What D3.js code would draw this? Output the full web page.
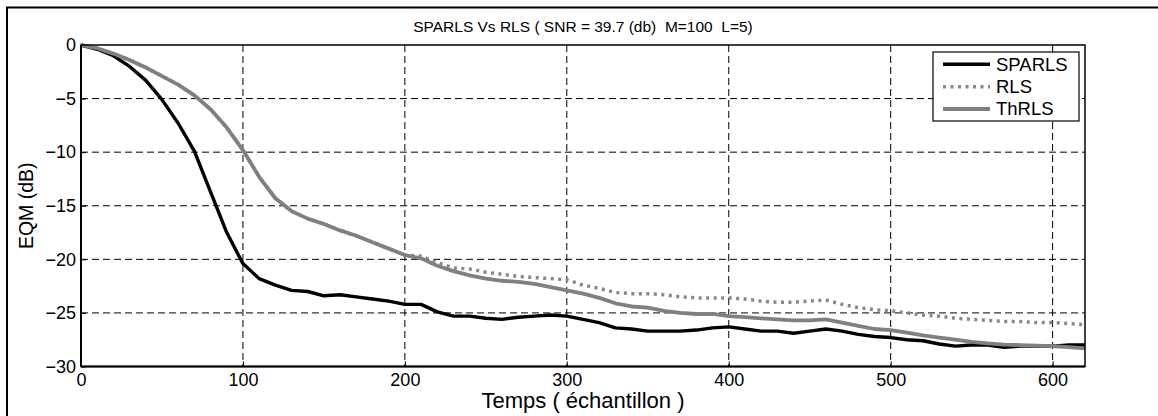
<!DOCTYPE html>
<html>
<head>
<meta charset="utf-8">
<script src="https://cdn.jsdelivr.net/npm/d3@7"></script>
<style>
  html, body { margin: 0; padding: 0; background: #fff; }
  svg { display: block; font-family: "Liberation Sans", Arial, sans-serif; }
</style>
</head>
<body>
<svg id="chart" width="1158" height="416"></svg>
<script>
// ---- data ----
const tValues = [0,10,20,30,40,50,60,70,80,90,100,110,120,130,140,150,160,170,180,190,200,
  210,220,230,240,250,260,270,280,290,300,310,320,330,340,350,360,370,380,390,400,
  410,420,430,440,450,460,470,480,490,500,510,520,530,540,550,560,570,580,590,600,610,620];

const sparls = [0,-0.4,-1.0,-2.0,-3.3,-5.1,-7.3,-9.9,-13.7,-17.5,-20.4,-21.8,-22.4,-22.9,-23.0,-23.4,-23.3,-23.5,-23.7,-23.9,-24.2,
  -24.2,-24.9,-25.3,-25.3,-25.5,-25.6,-25.4,-25.3,-25.2,-25.3,-25.6,-25.9,-26.4,-26.5,-26.7,-26.7,-26.7,-26.6,-26.4,-26.3,
  -26.5,-26.7,-26.7,-26.9,-26.7,-26.5,-26.7,-27.0,-27.2,-27.3,-27.5,-27.6,-27.9,-28.1,-28.0,-28.0,-28.2,-28.1,-28.1,-28.1,-28.0,-28.0];

const rls = [0,-0.3,-0.8,-1.4,-2.1,-2.9,-3.7,-4.7,-6.0,-7.7,-9.8,-12.3,-14.3,-15.5,-16.2,-16.7,-17.3,-17.8,-18.4,-19.0,-19.6,
  -19.7,-20.3,-20.8,-20.9,-21.2,-21.4,-21.6,-21.7,-21.8,-21.9,-22.4,-22.7,-23.1,-23.2,-23.2,-23.3,-23.5,-23.6,-23.6,-23.6,
  -23.7,-23.9,-24.0,-24.0,-23.9,-23.8,-24.2,-24.5,-24.7,-24.8,-25.0,-25.2,-25.3,-25.5,-25.6,-25.7,-25.8,-25.8,-25.9,-25.9,-26.0,-26.1];

const thrls = [0,-0.3,-0.8,-1.4,-2.1,-2.9,-3.7,-4.7,-6.0,-7.7,-9.8,-12.3,-14.3,-15.5,-16.2,-16.7,-17.3,-17.8,-18.4,-19.0,-19.6,
  -19.9,-20.6,-21.1,-21.5,-21.8,-22.0,-22.1,-22.3,-22.6,-22.9,-23.2,-23.6,-24.1,-24.4,-24.5,-24.8,-25.0,-25.1,-25.1,-25.3,
  -25.4,-25.5,-25.6,-25.7,-25.7,-25.6,-25.9,-26.2,-26.5,-26.6,-26.85,-27.1,-27.3,-27.5,-27.7,-27.85,-27.95,-28.0,-28.05,-28.1,-28.2,-28.3];

const xTicks = [0,100,200,300,400,500,600];
const yTicks = [0,-5,-10,-15,-20,-25,-30];
const seriesNames = ["SPARLS","RLS","ThRLS"];
const titleText = "SPARLS Vs RLS ( SNR = 39.7 (db)  M=100  L=5)";
const xLabel = "Temps ( échantillon )";
const yLabel = "EQM (dB)";

// ---- layout ----
const L = 81, R = 1085, T = 45, B = 366.5;
const svg = d3.select("#chart");

const x = d3.scaleLinear().domain([0, 620]).range([L, R]);
const y = d3.scaleLinear().domain([-30, 0]).range([B, T]);

// outer figure frame
svg.append("rect").attr("x", 7).attr("y", 7.5).attr("width", 1170).attr("height", 430)
  .attr("fill", "none").attr("stroke", "#000").attr("stroke-width", 2);

// grid
const grid = svg.append("g");
grid.selectAll("line.gx").data(xTicks.filter(d => d > 0)).join("line")
  .attr("x1", d => x(d)).attr("x2", d => x(d)).attr("y1", T).attr("y2", B)
  .attr("stroke", "#000").attr("stroke-width", 1).attr("stroke-dasharray", "7,4");
grid.selectAll("line.gy").data(yTicks.filter(d => d < 0 && d > -30)).join("line")
  .attr("x1", L).attr("x2", R).attr("y1", d => y(d)).attr("y2", d => y(d))
  .attr("stroke", "#000").attr("stroke-width", 1).attr("stroke-dasharray", "7,4");

// axes
const xAxis = svg.append("g").attr("transform", `translate(0,${B})`)
  .call(d3.axisBottom(x).tickValues(xTicks).tickFormat(d3.format("d"))
    .tickSizeInner(-5).tickSizeOuter(0).tickPadding(7));
const yAxis = svg.append("g").attr("transform", `translate(${L},0)`)
  .call(d3.axisLeft(y).tickValues(yTicks).tickFormat(d3.format("d"))
    .tickSizeInner(-5).tickSizeOuter(0).tickPadding(5));
[xAxis, yAxis].forEach(g => {
  g.select(".domain").remove();
  g.selectAll("text").attr("font-size", 18).attr("fill", "#000")
    .attr("font-family", "Liberation Sans, Arial, sans-serif");
  g.selectAll("line").attr("stroke", "#000");
});

// lines
const line = d3.line().x((d, i) => x(tValues[i])).y(d => y(d));
const plot = svg.append("g");
plot.append("path").datum(sparls).attr("d", line)
  .attr("fill", "none").attr("stroke", "#000").attr("stroke-width", 3.4).attr("stroke-linejoin", "round");
plot.append("path").datum(rls).attr("d", line)
  .attr("fill", "none").attr("stroke", "#888").attr("stroke-width", 3.5).attr("stroke-dasharray", "3,4.5");
plot.append("path").datum(thrls).attr("d", line)
  .attr("fill", "none").attr("stroke", "#808080").attr("stroke-width", 3.8).attr("stroke-linejoin", "round");

// plot box
svg.append("rect").attr("x", L).attr("y", T).attr("width", R - L).attr("height", B - T)
  .attr("fill", "none").attr("stroke", "#000").attr("stroke-width", 1.5);
svg.append("line").attr("x1", L).attr("x2", R).attr("y1", B).attr("y2", B)
  .attr("stroke", "#000").attr("stroke-width", 2);
svg.append("line").attr("x1", L).attr("x2", L).attr("y1", T).attr("y2", B)
  .attr("stroke", "#000").attr("stroke-width", 2);

// legend
const lg = svg.append("g");
lg.append("rect").attr("x", 933).attr("y", 52).attr("width", 146).attr("height", 69)
  .attr("fill", "#fff").attr("stroke", "#000").attr("stroke-width", 1.2);
const legStyles = [
  {stroke: "#000", w: 3.4, dash: null},
  {stroke: "#888", w: 3.5, dash: "3,4.5"},
  {stroke: "#808080", w: 3.8, dash: null}
];
const rowY = [64.3, 86.7, 109];
seriesNames.forEach((name, i) => {
  lg.append("line").attr("x1", 943).attr("x2", 990).attr("y1", rowY[i]).attr("y2", rowY[i])
    .attr("stroke", legStyles[i].stroke).attr("stroke-width", legStyles[i].w)
    .attr("stroke-dasharray", legStyles[i].dash);
  lg.append("text").attr("x", 996).attr("y", rowY[i]).attr("dy", "0.35em")
    .attr("font-size", 18.5).attr("fill", "#000").text(name);
});

// title & labels
svg.append("text").attr("x", (L + R) / 2).attr("y", 31.5).attr("text-anchor", "middle")
  .attr("font-size", 15.5).style("white-space", "pre").attr("fill", "#000").text(titleText);
svg.append("text").attr("x", (L + R) / 2).attr("y", 408).attr("text-anchor", "middle")
  .attr("font-size", 22).attr("fill", "#000").text(xLabel);
svg.append("text").attr("transform", `translate(33,${(T + B) / 2}) rotate(-90)`)
  .attr("text-anchor", "middle").attr("font-size", 19.5).attr("fill", "#000").text(yLabel);
</script>
</body>
</html>
